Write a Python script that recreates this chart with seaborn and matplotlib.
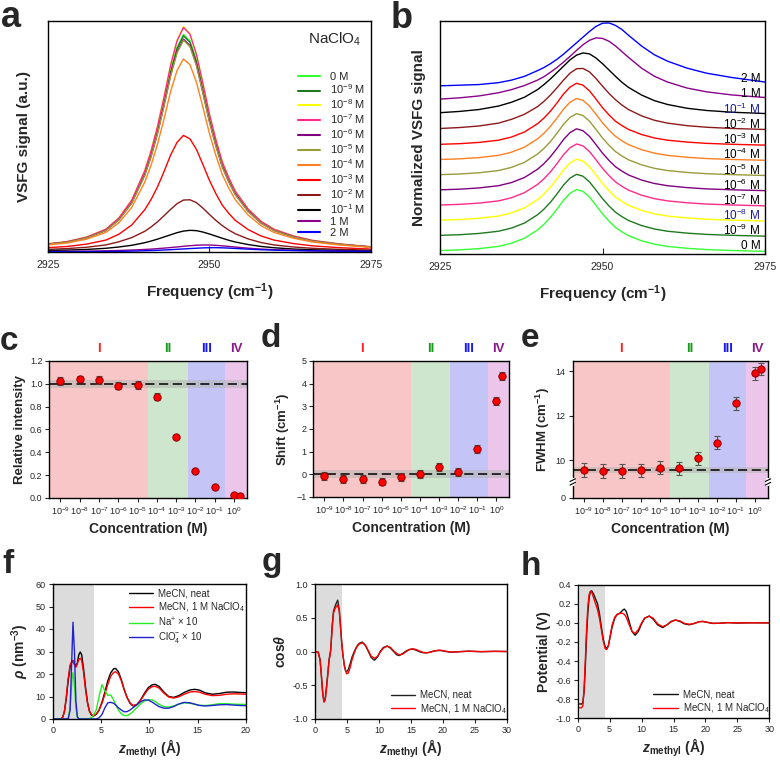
import numpy as np
import matplotlib
matplotlib.use('Agg')
import matplotlib.pyplot as plt
import seaborn as sns

sns.set_style('ticks')
plt.rcParams['font.family'] = ['Liberation Sans', 'DejaVu Sans']
plt.rcParams['mathtext.fontset'] = 'custom'
plt.rcParams['mathtext.rm'] = 'Liberation Sans'
plt.rcParams['mathtext.it'] = 'Liberation Sans:italic:bold'
plt.rcParams['mathtext.bf'] = 'Liberation Sans:bold'
plt.rcParams['axes.edgecolor'] = 'black'
plt.rcParams['axes.linewidth'] = 1.0

### data: VSFG spectra (a, b)
conc_labels = ['0 M', '10$^{-9}$ M', '10$^{-8}$ M', '10$^{-7}$ M', '10$^{-6}$ M', '10$^{-5}$ M',
               '10$^{-4}$ M', '10$^{-3}$ M', '10$^{-2}$ M', '10$^{-1}$ M', '1 M', '2 M']
conc_colors = ['#33ff33', '#1f7a1f', '#ffff00', '#ff2a8a', '#800080', '#9a9a3a',
               '#ff8020', '#ff0000', '#8b1a1a', '#000000', '#8b008b', '#0000ff']
freq = [2925, 2928, 2931, 2934, 2936, 2938, 2940, 2941, 2942, 2943, 2944, 2945, 2946, 2947,
        2948, 2949, 2950, 2951, 2952, 2953, 2954, 2956, 2958, 2960, 2963, 2966, 2970, 2975]
shape_low = [0.035, 0.045, 0.065, 0.10, 0.15, 0.23, 0.36, 0.45, 0.56, 0.69, 0.83, 0.94, 1.0, 0.97,
             0.88, 0.75, 0.615, 0.50, 0.40, 0.33, 0.27, 0.19, 0.135, 0.10, 0.07, 0.05, 0.035, 0.022]
shape_1e2 = [0.045, 0.06, 0.085, 0.13, 0.19, 0.27, 0.39, 0.475, 0.575, 0.69, 0.81, 0.92, 0.99, 0.995,
             0.94, 0.835, 0.715, 0.60, 0.50, 0.415, 0.345, 0.245, 0.175, 0.13, 0.09, 0.065, 0.045, 0.03]
shape_1e1 = [0.055, 0.075, 0.105, 0.16, 0.22, 0.30, 0.42, 0.50, 0.59, 0.69, 0.79, 0.89, 0.965, 1.0,
             0.985, 0.92, 0.83, 0.73, 0.63, 0.535, 0.455, 0.335, 0.245, 0.185, 0.125, 0.09, 0.062, 0.042]
shape_1M = [0.03, 0.05, 0.08, 0.13, 0.18, 0.245, 0.33, 0.385, 0.455, 0.53, 0.615, 0.705, 0.80, 0.89,
            0.96, 0.998, 0.99, 0.945, 0.87, 0.78, 0.69, 0.52, 0.39, 0.30, 0.205, 0.145, 0.095, 0.055]
shape_2M = [0.0, 0.01, 0.02, 0.05, 0.09, 0.15, 0.24, 0.29, 0.35, 0.42, 0.50, 0.59, 0.68, 0.77,
            0.86, 0.94, 0.99, 0.995, 0.955, 0.89, 0.80, 0.63, 0.49, 0.39, 0.28, 0.20, 0.13, 0.06]
conc_shape = [shape_low] * 8 + [shape_1e2, shape_1e1, shape_1M, shape_2M]
peak_amp = [0.966, 0.96, 1.0, 0.997, 0.945, 0.94, 0.857, 0.517, 0.232, 0.095, 0.03, 0.018]
b_label_colors = ['k', 'k', '#1a1a99', 'k', 'k', 'k', 'k', 'k', 'k', '#1a1a99', 'k', 'k']

### data: fit results (c, d, e)
log_conc = [-9, -8, -7, -6, -5, -4, -3, -2, -1, 0, 0.301]
rel_int = [1.028, 1.042, 1.037, 0.984, 0.987, 0.888, 0.537, 0.239, 0.099, 0.026, 0.015]
rel_err = [0.035, 0.03, 0.035, 0.03, 0.035, 0.03, 0.012, 0.01, 0.01, 0.008, 0.008]
shift = [-0.07, -0.2, -0.2, -0.32, -0.1, 0.01, 0.31, 0.1, 1.1, 3.22, 4.33]
shift_err = [0.18, 0.17, 0.17, 0.17, 0.18, 0.18, 0.17, 0.18, 0.18, 0.17, 0.17]
fwhm = [9.57, 9.52, 9.52, 9.55, 9.67, 9.64, 10.09, 10.79, 12.55, 13.9, 14.1]
fwhm_err = [0.3, 0.3, 0.3, 0.3, 0.3, 0.3, 0.28, 0.28, 0.28, 0.28, 0.28]
regime_names = ['I', 'II', 'III', 'IV']
regime_edges = [-9.58, -4.47, -2.4, -0.46, 0.68]
regime_fill = ['#f8c6c6', '#cde6cd', '#c4c4f6', '#ebc6ea']
regime_text = ['#ff2020', '#1a9a1a', '#1a1aee', '#8b1a8b']

### data: MD profiles (f, g, h)
z_f = [0, 0.8, 1.0, 1.2, 1.4, 1.6, 1.8, 2.0, 2.1, 2.25, 2.4, 2.55, 2.7, 2.85, 3.0, 3.2, 3.4, 3.6,
       3.8, 4.0, 4.2, 4.5, 4.8, 5.1, 5.4, 5.7, 6.0, 6.3, 6.5, 6.8, 7.1, 7.4, 7.7, 8.0, 8.3, 8.7,
       9.1, 9.5, 9.9, 10.3, 10.6, 11.0, 11.5, 12.0, 12.5, 13.0, 13.6, 14.2, 14.7, 15.2, 15.8,
       16.5, 17.2, 18.0, 18.7, 19.4, 20.0]
rho_neat = [0, 0, 0.5, 3, 9, 17, 23, 25.5, 25.9, 24.5, 23.5, 25, 28.5, 29.8, 28.5, 22, 14, 7.5,
            3.5, 1.8, 1.3, 2, 4, 7.5, 12, 17, 20.5, 22.3, 22.5, 21, 17.5, 13, 9.5, 7, 5.8, 6.3,
            8.5, 11.5, 14, 15.2, 15.4, 14.5, 12, 10, 9.6, 10.3, 11.8, 12.9, 13.2, 12.8, 11.6,
            11.0, 11.3, 11.9, 12.0, 11.8, 11.7]
rho_salt = [0, 0, 0.4, 3, 9.5, 18, 24, 26, 26, 24, 23, 24.5, 26.5, 27, 26, 20.5, 13, 7,
            3.5, 2, 1.5, 2.2, 4, 7, 11, 15.5, 19, 20.7, 21, 20, 17, 13, 9.5, 7.2, 6.0, 6.4,
            8.3, 11, 13.3, 14.4, 14.5, 13.8, 11.5, 9.8, 9.3, 9.8, 11.0, 12.0, 12.2, 11.9, 11.0,
            10.4, 10.5, 11.0, 11.2, 11.1, 11.0]
rho_na = [0, 0, 0, 0, 0, 0.3, 5, 18, 20.6, 15, 5, 1, 0.1, 0, 0, 0, 0, 0,
          0.2, 0.6, 1.5, 4, 10, 15.3, 12.5, 10.5, 10.7, 8.5, 6.5, 4, 2.3, 1.5, 1.5, 2.2, 3.3, 5,
          6.8, 8, 8.6, 8.5, 7.8, 6.5, 5.5, 5.3, 5.8, 6.5, 7.2, 7.0, 6.5, 6.1, 6.0,
          6.3, 6.8, 6.8, 6.6, 6.5, 6.5]
rho_clo4 = [0, 0, 0, 0, 0, 0, 4, 30, 43, 30, 8, 1, 0, 0, 0, 0, 0, 0,
            0, 0, 0, 0, 0.5, 2, 5, 7.2, 7.4, 7.0, 6.3, 5, 4.0, 3.2, 3.3, 4.0, 5.0, 6.3,
            7.7, 8.5, 8.4, 7.5, 6.6, 5.5, 4.8, 4.8, 5.5, 6.6, 7.4, 7.2, 6.6, 6.0, 5.8,
            6.0, 6.3, 6.4, 6.2, 6.0, 5.9]

z_g = [0, 0.5, 0.8, 1.0, 1.2, 1.4, 1.6, 1.8, 2.0, 2.2, 2.45, 2.7, 2.9, 3.1, 3.3, 3.55, 3.8, 4.0,
       4.2, 4.4, 4.6, 4.8, 4.95, 5.2, 5.5, 5.8, 6.15, 6.5, 6.9, 7.4, 7.9, 8.35, 8.8, 9.3, 9.8,
       10.2, 10.7, 11.3, 11.8, 12.3, 12.8, 13.2, 13.7, 14.3, 14.8, 15.3, 15.8, 16.4, 16.9, 17.4,
       18.0, 18.5, 19.0, 19.5, 20.0, 20.5, 21.0, 21.5, 22.5, 24, 26, 28, 30]
cos_neat = [0, -0.01, -0.12, -0.35, -0.60, -0.74, -0.70, -0.52, -0.33, -0.12, 0.02, 0.40, 0.60,
            0.66, 0.71, 0.76, 0.62, 0.35, 0.10, -0.08, -0.22, -0.29, -0.30, -0.27, -0.18, -0.08,
            0.0, 0.07, 0.12, 0.14, 0.09, 0.0, -0.09, -0.13, -0.08, 0.0, 0.06, 0.08, 0.05, 0.0,
            -0.05, -0.06, -0.03, 0.01, 0.03, 0.035, 0.02, -0.005, -0.018, -0.02, -0.01, 0.005,
            0.013, 0.015, 0.01, 0.0, -0.008, -0.01, -0.003, 0.005, -0.003, 0.002, 0.0]
cos_salt = [0, -0.01, -0.13, -0.37, -0.62, -0.75, -0.72, -0.55, -0.35, -0.14, 0.0, 0.36, 0.57,
            0.63, 0.66, 0.69, 0.60, 0.38, 0.12, -0.07, -0.20, -0.29, -0.33, -0.32, -0.24, -0.12,
            -0.02, 0.06, 0.11, 0.13, 0.09, 0.01, -0.07, -0.10, -0.07, -0.01, 0.05, 0.08, 0.06,
            0.01, -0.03, -0.05, -0.04, 0.0, 0.03, 0.04, 0.03, 0.005, -0.012, -0.02, -0.012, 0.003,
            0.013, 0.02, 0.014, 0.004, -0.005, -0.008, -0.004, 0.004, -0.002, 0.002, 0.0]

z_h = [0.3, 0.6, 0.8, 1.0, 1.2, 1.4, 1.6, 1.8, 2.0, 2.2, 2.5, 2.8, 3.1, 3.4, 3.7, 4.0, 4.3, 4.55,
       4.8, 5.1, 5.4, 5.8, 6.2, 6.6, 7.0, 7.3, 7.6, 8.0, 8.5, 9.0, 9.5, 10.0, 10.5, 11.2, 11.8,
       12.5, 13.3, 14.0, 14.6, 15.3, 16.0, 16.7, 17.5, 18.3, 19.0, 19.6, 20.3, 21.2, 22.2, 23.5,
       25, 27, 30]
pot_neat = [-0.85, -0.85, -0.84, -0.72, -0.45, -0.12, 0.12, 0.27, 0.33, 0.335, 0.30, 0.25, 0.20,
            0.10, -0.04, -0.17, -0.25, -0.27, -0.24, -0.14, -0.04, 0.05, 0.09, 0.10, 0.13, 0.145,
            0.12, 0.03, -0.09, -0.13, -0.09, -0.01, 0.05, 0.072, 0.04, -0.02, -0.05, -0.02, 0.015,
            0.03, 0.015, -0.01, -0.02, -0.005, 0.012, 0.015, 0.005, -0.006, -0.004, 0.003,
            -0.002, 0.001, 0.0]
pot_salt = [-0.89, -0.89, -0.87, -0.70, -0.38, -0.05, 0.18, 0.30, 0.33, 0.32, 0.26, 0.20, 0.14,
            0.05, -0.07, -0.19, -0.27, -0.28, -0.24, -0.13, -0.02, 0.06, 0.09, 0.10, 0.10, 0.09,
            0.06, -0.01, -0.09, -0.11, -0.07, 0.0, 0.05, 0.07, 0.05, -0.01, -0.04, -0.02, 0.01,
            0.03, 0.02, -0.005, -0.015, -0.005, 0.012, 0.015, 0.006, -0.004, -0.004, 0.002,
            -0.001, 0.001, 0.0]

W, H = 780, 762
fig = plt.figure(figsize=(W / 100, H / 100), dpi=100)


def box(l, r, t, b):
    # pixel box -> figure fraction
    return [l / W, 1 - b / H, (r - l) / W, (b - t) / H]


def letter(x, y, s, size):
    fig.text(x / W, 1 - y / H, s, fontsize=size, fontweight='bold', va='baseline', ha='left')


### a: raw spectra
ax = fig.add_axes(box(47.7, 371, 20.7, 251.7))
for lab, col, shp, amp in zip(conc_labels, conc_colors, conc_shape, peak_amp):
    sns.lineplot(x=freq, y=np.asarray(shp) * amp, ax=ax, color=col, lw=1.0, label=lab, sort=False)
ax.set_xlim(2925, 2975)
ax.set_ylim(0, 1.027)
ax.set_xticks([2925, 2950, 2975])
ax.set_yticks([])
ax.tick_params(axis='x', direction='in', labelsize=7.5, pad=6, length=4)
ax.set_xlabel('Frequency (cm$\\mathbf{^{-1}}$)', fontsize=11, fontweight='bold', labelpad=8)
ax.set_ylabel('VSFG signal (a.u.)', fontsize=11, fontweight='bold', labelpad=12)
leg = ax.legend(loc='upper left', bbox_to_anchor=(0.775, 0.78), frameon=False, fontsize=8,
                handlelength=2.0, handletextpad=0.9, labelspacing=0.1, borderaxespad=0, borderpad=0)
for ln in leg.get_lines():
    ln.set_linewidth(1.5)
ax.text(0.97, 0.92, 'NaClO$_4$', transform=ax.transAxes, ha='right', va='center', fontsize=11)
letter(1, 27, 'a', 26)

### b: normalized, stacked spectra
ax = fig.add_axes(box(440, 765, 20.7, 254))
step = 0.24
for k, (lab, col, shp) in enumerate(zip(conc_labels, conc_colors, conc_shape)):
    sns.lineplot(x=freq, y=np.asarray(shp) + k * step, ax=ax, color=col, lw=1.0, sort=False)
    ax.text(2974.3, k * step + 0.11, lab, ha='right', va='center', fontsize=8.5, color=b_label_colors[k])
ax.set_xlim(2925, 2975)
ax.set_ylim(-0.02, 3.67)
ax.set_xticks([2925, 2950, 2975])
ax.set_yticks([])
ax.tick_params(axis='x', direction='in', labelsize=7.5, pad=6, length=4)
ax.set_xlabel('Frequency (cm$\\mathbf{^{-1}}$)', fontsize=11, fontweight='bold', labelpad=8)
ax.set_ylabel('Normalized VSFG signal', fontsize=11, fontweight='bold', labelpad=10)
letter(391, 28, 'b', 26)


### c, d, e: fit parameters vs concentration
def regime_axes(rect, y, yerr, ref, band):
    ax = fig.add_axes(rect)
    for i in range(4):
        ax.axvspan(regime_edges[i], regime_edges[i + 1], color=regime_fill[i], lw=0, zorder=0)
        ax.text((regime_edges[i] + regime_edges[i + 1]) / 2, 1.09, regime_names[i],
                transform=ax.get_xaxis_transform(), ha='center', va='center',
                fontsize=9.5, fontweight='bold', color=regime_text[i])
    ax.axhspan(ref - band, ref + band, color='#b4b4b4', alpha=0.55, lw=0, zorder=1)
    ax.axhline(ref, color='k', lw=1.1, ls=(0, (6, 3)), zorder=2)
    ax.errorbar(log_conc, y, yerr=yerr, fmt='none', ecolor='#555555', elinewidth=0.8,
                capsize=2.2, capthick=0.8, zorder=3)
    sns.scatterplot(x=log_conc, y=y, ax=ax, color='#ff0000', edgecolor='#8b0000', s=28,
                    linewidth=0.7, zorder=4)
    ax.set_xlim(regime_edges[0], regime_edges[-1])
    ax.set_xticks(log_conc[:10])
    ax.set_xticklabels(['10$^{%d}$' % v for v in log_conc[:10]])
    ax.tick_params(labelsize=6.5, length=3, width=0.8, pad=2)
    ax.set_xlabel('Concentration (M)', fontsize=10, fontweight='bold', labelpad=4)
    return ax


ax = regime_axes(box(49.3, 247, 361, 498), rel_int, rel_err, 1.0, 0.036)
ax.set_ylim(0, 1.2)
ax.set_yticks(np.arange(0, 1.21, 0.2))
ax.set_yticklabels(['%.1f' % v for v in np.arange(0, 1.21, 0.2)])
ax.set_ylabel('Relative intensity', fontsize=9.5, fontweight='bold', labelpad=3)
letter(0, 350, 'c', 24)

ax = regime_axes(box(313.3, 509.3, 361, 497), shift, shift_err, 0.0, 0.17)
ax.set_ylim(-1, 5)
ax.set_yticks(range(-1, 6))
ax.set_ylabel('Shift (cm$\\mathbf{^{-1}}$)', fontsize=9.5, fontweight='bold', labelpad=3)
letter(261, 347, 'd', 24)

ax = regime_axes(box(572.7, 768, 361, 498), fwhm, fwhm_err, 9.57, 0.13)
ax.set_ylim(8.31, 14.45)
ax.set_yticks([8.31, 10, 12, 14])
ax.set_yticklabels(['0', '10', '12', '14'])
ax.set_ylabel('FWHM (cm$\\mathbf{^{-1}}$)', fontsize=9.5, fontweight='bold', labelpad=3)
trans = ax.get_yaxis_transform()
for xa in (0, 1):
    ax.plot([xa, xa], [8.93, 9.13], color='white', lw=3, transform=trans, clip_on=False, zorder=5)
    for yb in (8.95, 9.11):
        ax.plot([xa - 0.014, xa + 0.014], [yb - 0.06, yb + 0.06], color='k', lw=0.8,
                transform=trans, clip_on=False, zorder=6)
letter(521, 347, 'e', 24)


### f, g, h: MD profiles
def md_axes(rect, shade):
    ax = fig.add_axes(rect)
    ax.axvspan(shade[0], shade[1], color='#dcdcdc', lw=0, zorder=0)
    ax.tick_params(labelsize=6.5, length=3, width=0.8, pad=2)
    ax.set_xlabel('$z_{\\mathbf{methyl}}$ (Å)', fontsize=10, fontweight='bold', labelpad=2)
    return ax


ax = md_axes(box(52.7, 246, 584, 719), (0, 4.3))
sns.lineplot(x=z_f, y=rho_neat, ax=ax, color='black', lw=1.0, label='MeCN, neat', sort=False)
sns.lineplot(x=z_f, y=rho_salt, ax=ax, color='#ff0000', lw=1.0, label='MeCN, 1 M NaClO$_4$', sort=False)
sns.lineplot(x=z_f, y=rho_na, ax=ax, color='#22ee22', lw=1.0, label='Na$^{+}$ × 10', sort=False)
sns.lineplot(x=z_f, y=rho_clo4, ax=ax, color='#2222cc', lw=1.0, label='ClO$_4^{-}$ × 10', sort=False)
ax.set_xlim(0, 20)
ax.set_ylim(0, 60)
ax.set_xticks([0, 5, 10, 15, 20])
ax.set_yticks(range(0, 61, 10))
ax.set_ylabel('$\\rho$ (nm$\\mathbf{^{-3}}$)', fontsize=10, fontweight='bold', labelpad=3)
ax.legend(loc='upper left', bbox_to_anchor=(0.395, 0.965), frameon=False, fontsize=7,
          handlelength=2.5, handletextpad=0.5, labelspacing=0.15, borderaxespad=0, borderpad=0)
letter(2, 573, 'f', 24)

ax = md_axes(box(315, 506.7, 584, 719), (0, 4.3))
sns.lineplot(x=z_g, y=cos_neat, ax=ax, color='#222222', lw=1.0, label='MeCN, neat', sort=False)
sns.lineplot(x=z_g, y=cos_salt, ax=ax, color='#ff0000', lw=1.0, label='MeCN, 1 M NaClO$_4$', sort=False)
ax.set_xlim(0, 30)
ax.set_ylim(-1, 1)
ax.set_xticks(range(0, 31, 5))
ax.set_yticks([-1, -0.5, 0, 0.5, 1])
ax.set_yticklabels(['-1.0', '-0.5', '0.0', '0.5', '1.0'])
ax.set_ylabel('cos$\\theta$', fontsize=10, fontweight='bold', labelpad=3)
ax.legend(loc='upper left', bbox_to_anchor=(0.395, 0.215), frameon=False, fontsize=7,
          handlelength=2.5, handletextpad=0.5, labelspacing=0.2, borderaxespad=0, borderpad=0)
letter(262, 571, 'g', 24)

ax = md_axes(box(577.7, 769.3, 584.7, 718.3), (0.35, 4.3))
sns.lineplot(x=z_h, y=pot_neat, ax=ax, color='#111111', lw=1.0, label='MeCN, neat', sort=False)
sns.lineplot(x=z_h, y=pot_salt, ax=ax, color='#ff0000', lw=1.0, label='MeCN, 1 M NaClO$_4$', sort=False)
ax.set_xlim(0, 30)
ax.set_ylim(-1, 0.4)
ax.set_xticks(range(0, 31, 5))
ax.set_yticks(np.arange(-1, 0.41, 0.2))
ax.set_yticklabels(['%.1f' % v for v in np.arange(-1, 0.41, 0.2)])
ax.set_ylabel('Potential (V)', fontsize=10, fontweight='bold', labelpad=3)
ax.legend(loc='upper left', bbox_to_anchor=(0.395, 0.215), frameon=False, fontsize=7,
          handlelength=2.5, handletextpad=0.5, labelspacing=0.2, borderaxespad=0, borderpad=0)
letter(521, 575, 'h', 24)

fig.savefig('out.png', dpi=100)
